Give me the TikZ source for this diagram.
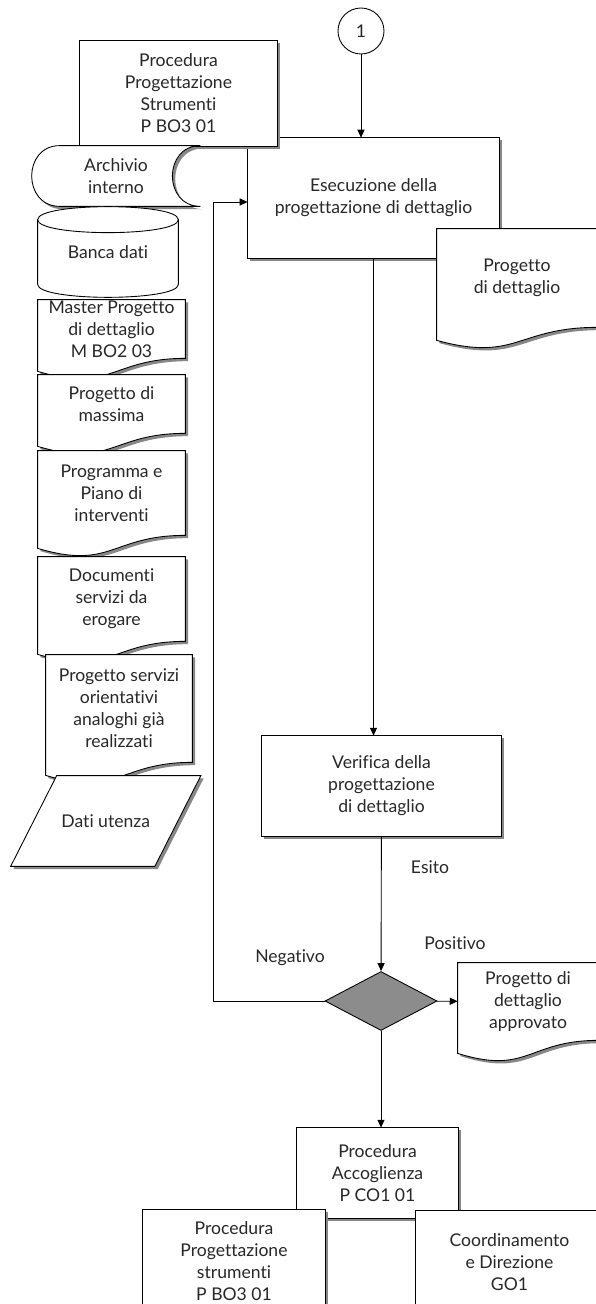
\documentclass[tikz,border=0pt]{standalone}
\usepackage{fontspec}
\setmainfont[Ligatures={NoCommon}]{Lato}
\usepackage{xcolor}
\usetikzlibrary{calc}
\usetikzlibrary{shapes.geometric}
\usetikzlibrary{shadows}
\usetikzlibrary{backgrounds}
\usetikzlibrary{arrows.meta}
\definecolor{dg}{RGB}{140, 140, 140}
\definecolor{sh}{RGB}{135, 135, 135}
\definecolor{tx}{RGB}{40, 40, 40}
\newcommand{\pxu}{0.02cm}

\tikzset{
    txt/.style={font=\fontsize{10}{12.5}\selectfont, text=tx, align=center, inner sep=0pt},
    sz/.style 2 args={minimum width={#1*\pxu}, minimum height={#2*\pxu}},
    flat/.style={draw, line width=0.5pt, fill=white},
    shp/.style={flat, drop shadow={shadow xshift=1.6pt, shadow yshift=-1.6pt, opacity=1, fill=sh}},
    flow/.style={line width=0.5pt, -{Triangle[length=4.5pt, width=4pt]}}
}

\newcommand{\boxline}[1]{\draw[shp] (#1.north west) rectangle (#1.south east);}
\newcommand{\docline}[1]{\draw[shp] (#1.north west) -- (#1.north east) -- (#1.south east)
    .. controls (#1.south) and ($(#1.south)+(0,35)$) .. ($(#1.south west)+(0,13)$) -- cycle;}
\newcommand{\archline}[1]{\draw[shp] ($(#1.north west)+(28,0)$) -- (#1.north east)
    .. controls ($(#1.north east)+(-37.3,0)$) and ($(#1.south east)+(-37.3,0)$) .. (#1.south east)
    -- ($(#1.south west)+(28,0)$)
    .. controls ($(#1.south west)+(-9.3,0)$) and ($(#1.north west)+(-9.3,0)$) .. ($(#1.north west)+(28,0)$) -- cycle;}
\newcommand{\cylline}[1]{\draw[flat] ($(#1.north west)+(0,13)$) -- ($(#1.south west)+(0,-13)$)
    .. controls ($(#1.south west)+(0,4.3)$) and ($(#1.south east)+(0,4.3)$) .. ($(#1.south east)+(0,-13)$)
    -- ($(#1.north east)+(0,13)$)
    .. controls ($(#1.north east)+(0,-4.3)$) and ($(#1.north west)+(0,-4.3)$) .. ($(#1.north west)+(0,13)$) -- cycle;
    \draw[line width=0.5pt] ($(#1.north west)+(0,13)$)
    .. controls ($(#1.north west)+(0,30.3)$) and ($(#1.north east)+(0,30.3)$) .. ($(#1.north east)+(0,13)$);}
\newcommand{\paraline}[1]{\draw[shp] ($(#1.north west)+(23,0)$) -- ($(#1.north east)+(23,0)$)
    -- ($(#1.south east)+(-23,0)$) -- ($(#1.south west)+(-23,0)$) -- cycle;}

\begin{document}
\begin{tikzpicture}[x=0.02cm, y=-0.02cm]
    \useasboundingbox (0,0) rectangle (595,1304);

    \node[txt, draw, line width=0.5pt, circle, minimum size={46*\pxu}] (one) at (361,31) {1};
    \node[txt, sz={197}{105}] (pps) at (178.5,93.5) {Procedura\\Progettazione\\Strumenti\\P BO3 01};
    \node[txt, sz={168}{60}] (arch) at (116,176) {Archivio\\interno};
    \node[txt, sz={140}{90}] (banca) at (108,252) {Banca dati};
    \node[txt, sz={147}{58}] (master) at (111.5,329) {Master Progetto\\di dettaglio\\M BO2 03};
    \node[txt, sz={147}{58}] (massima) at (111.5,404) {Progetto di\\massima};
    \node[txt, sz={147}{84}] (prog) at (111.5,493) {Programma e\\Piano di\\interventi};
    \node[txt, sz={147}{84}] (docs) at (111.5,599) {Documenti\\servizi da\\erogare};
    \node[txt, sz={146}{107}] (serv) at (119,708.5) {Progetto servizi\\orientativi\\analoghi già\\realizzati};
    \node[txt, sz={143.5}{90}] (dati) at (105.75,821) {Dati utenza};

    \node[txt, sz={251}{120}] (esec) at (373.5,198) {Esecuzione della\\progettazione di dettaglio};
    \node[txt, sz={160}{98}] (pdet) at (517,278) {Progetto\\di dettaglio};
    \node[txt, sz={239}{100}] (verif) at (381.5,786) {Verifica della\\progettazione\\di dettaglio};
    \node[draw, line width=0.5pt, fill=dg, diamond, inner sep=0pt, sz={112}{59}] (esito) at (381,1001) {};
    \node[txt, sz={140}{77}] (appr) at (528,1001.5) {Progetto di\\dettaglio\\approvato};
    \node[txt, sz={161}{90}] (accog) at (377.5,1173) {Procedura\\Accoglienza\\P CO1 01};
    \node[txt, sz={182}{102}] (pps2) at (234,1261) {Procedura\\Progettazione\\strumenti\\P BO3 01};
    \node[txt, sz={187}{102}] (coord) at (509.5,1262) {Coordinamento\\e Direzione\\GO1};

    \node[txt] (lesito) at (430,867) {Esito};
    \node[txt] (lpos) at (455,943) {Positivo};
    \node[txt] (lneg) at (290,958) {Negativo};

    \begin{scope}[on background layer]
        \boxline{esec}
        \docline{pdet}
        \boxline{pps}
        \archline{arch}
        \cylline{banca}
        \docline{master}
        \docline{massima}
        \docline{prog}
        \docline{docs}
        \docline{serv}
        \paraline{dati}
        \boxline{verif}
        \docline{appr}
        \boxline{accog}
        \boxline{pps2}
        \boxline{coord}
    \end{scope}

    \coordinate (back) at (213,1001);
    \draw[flow] (one) -- (one |- esec.north);
    \draw[flow] (esec.south) -- (esec.south |- verif.north);
    \draw[flow] (verif) -- (esito);
    \draw[flow] (esito) -- (appr);
    \draw[flow] (esito.south) -- (esito.south |- accog.north);
    \draw[flow] (esito.west) -- (back) |- ($(esec.west)+(0,4)$);
\end{tikzpicture}
\end{document}
